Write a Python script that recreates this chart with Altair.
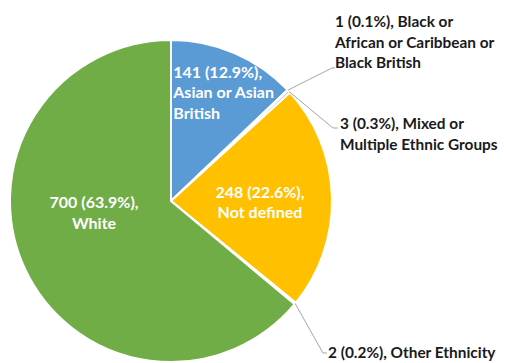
import math
import altair as alt
import pandas as pd

categories = ["Asian or Asian British", "Black or African or Caribbean or Black British",
              "Mixed or Multiple Ethnic Groups", "Not defined", "Other Ethnicity", "White"]
counts = [141, 1, 3, 248, 2, 700]
label_lines = [
    ["141 (12.9%),", "Asian or Asian", "British"],
    ["1 (0.1%), Black or", "African or Caribbean or", "Black British"],
    ["3 (0.3%), Mixed or", "Multiple Ethnic Groups"],
    ["248 (22.6%),", "Not defined"],
    ["2 (0.2%), Other Ethnicity"],
    ["700 (63.9%),", "White"],
]
colors = ["#5B9BD5", "#ED7D31", "#A5A5A5", "#FFC000", "#4472C4", "#70AD47"]

# layout
W, H = 490, 355
CX, CY, R = 163, 193, 161
FONT = "Lato"
FS_IN = 16
FS_OUT = 15.4
LH = 20.5

df = pd.DataFrame({
    "category": categories,
    "count": counts,
    "order": list(range(len(categories))),
    "label": ["\n".join(l) for l in label_lines],
})

arcs = alt.Chart(df).mark_arc(radius=R, stroke="white", strokeWidth=2).encode(
    theta=alt.Theta("count:Q", stack=True),
    order=alt.Order("order:Q"),
    color=alt.Color("category:N", scale=alt.Scale(domain=categories, range=colors), legend=None),
    x=alt.value(CX), y=alt.value(CY),
)


def inner(cat, r, dx, dy, align):
    return alt.Chart(df).transform_calculate(
        txt=f"datum.category == '{cat}' ? datum.label : ''"
    ).mark_text(
        radius=r, dx=dx, dy=dy, align=align, baseline="middle", lineBreak="\n",
        font=FONT, fontWeight="bold", fontSize=FS_IN, lineHeight=LH,
    ).encode(
        theta=alt.Theta("count:Q", stack=True),
        order=alt.Order("order:Q"),
        detail="category:N",
        text="txt:N",
        color=alt.value("white"),
        x=alt.value(CX), y=alt.value(CY),
    )


in_asian = inner("Asian or Asian British", 117.5, -44, -20, "left")
in_nd = inner("Not defined", 89, 0, -6, "center")
in_white = inner("White", 85, 0, -34, "center")

# outside labels: leader from slice edge (computed from data) to label anchor
total = sum(counts)
mids = []
acc = 0
for c in counts:
    mids.append((acc + c / 2) / total * 2 * math.pi)
    acc += c

outside = {1: {"elbow": (324, 60), "end": (327, 60), "text": (327, 14)},
           2: {"elbow": (325, 120), "end": (330, 120), "text": (332, 116)},
           4: {"elbow": (315, 345), "end": (319, 345), "text": (320, 345)}}

lead_rows, text_rows = [], []
for i, spec in outside.items():
    sx = CX + R * math.sin(mids[i])
    sy = CY - R * math.cos(mids[i])
    pts = [(sx, sy), spec["elbow"], spec["end"]]
    for k, (px, py) in enumerate(pts):
        lead_rows.append({"category": categories[i], "k": k, "x": px, "y": py})
    text_rows.append({"category": categories[i], "x": spec["text"][0], "y": spec["text"][1],
                      "label": "\n".join(label_lines[i])})

leaders = alt.Chart(pd.DataFrame(lead_rows)).mark_line(color="#A6A6A6", strokeWidth=1).encode(
    x=alt.X("x:Q", scale=None), y=alt.Y("y:Q", scale=None),
    detail="category:N", order="k:Q",
)
out_text = alt.Chart(pd.DataFrame(text_rows)).mark_text(
    align="left", baseline="middle", lineBreak="\n", font=FONT, fontWeight="bold",
    fontSize=FS_OUT, lineHeight=LH, color="#1a1a1a",
).encode(x=alt.X("x:Q", scale=None), y=alt.Y("y:Q", scale=None), text="label:N")

chart = alt.layer(arcs, in_asian, in_nd, in_white, leaders, out_text).properties(
    width=W, height=H, autosize="none", padding=0
).configure_view(stroke=None)

chart.save("out.html", embed_options={"renderer": "svg", "actions": False})
